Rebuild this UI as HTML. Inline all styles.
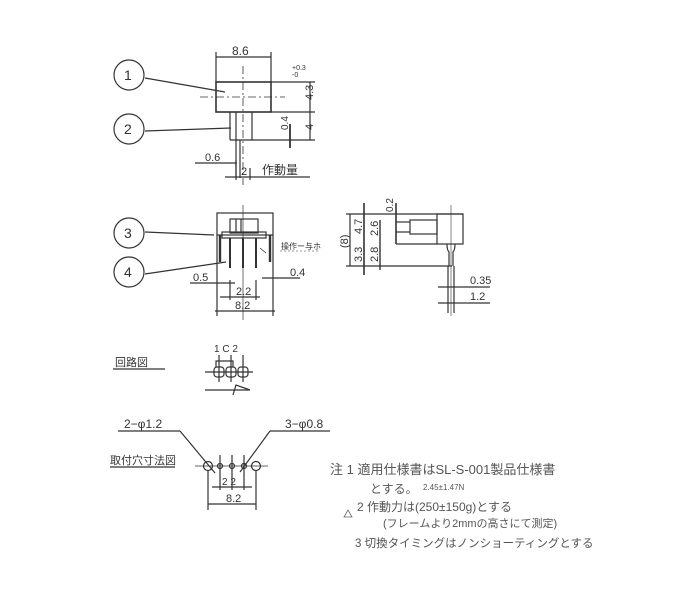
<!DOCTYPE html>
<html><head><meta charset="utf-8"><style>
html,body{margin:0;padding:0;background:#fff;}
svg{display:block}
text{font-family:"Liberation Sans","Noto Sans CJK JP",sans-serif;fill:#333;}
.n{fill:#555;}
</style></head><body>
<svg width="700" height="594" viewBox="0 0 700 594" xmlns="http://www.w3.org/2000/svg">
<g stroke="#333" stroke-width="1.2" fill="none">
<circle cx="129" cy="75" r="15"/>
<circle cx="129" cy="129" r="15"/>
<line x1="145" y1="78" x2="225" y2="92"/>
<line x1="145" y1="131" x2="231" y2="128"/>
<rect x="216" y="82" width="55" height="30" stroke-width="1.6"/>
<line x1="216" y1="52" x2="216" y2="82"/><line x1="271" y1="52" x2="271" y2="82"/>
<line x1="216" y1="57" x2="271" y2="57"/>
<line x1="243" y1="66" x2="243" y2="185" stroke-dasharray="8,3,2,3" stroke-width="0.8"/>
<line x1="200" y1="97" x2="285" y2="97" stroke-dasharray="8,3,2,3" stroke-width="0.8"/>
<line x1="230" y1="112" x2="230" y2="140"/><line x1="236" y1="112" x2="236" y2="140"/>
<line x1="252" y1="112" x2="252" y2="140"/>
<line x1="230" y1="140" x2="252" y2="140"/>
<line x1="236" y1="140" x2="236" y2="178"/><line x1="240" y1="140" x2="240" y2="178"/>
<line x1="271" y1="82" x2="315" y2="82"/><line x1="271" y1="112" x2="315" y2="112"/>
<line x1="252" y1="140" x2="315" y2="140"/>
<line x1="310" y1="82" x2="310" y2="140"/>
<line x1="290" y1="124" x2="290" y2="148" stroke-width="1.8"/>
<line x1="195" y1="163" x2="237" y2="163"/>
<line x1="225" y1="177" x2="310" y2="177"/>
<line x1="236" y1="160" x2="236" y2="180"/><line x1="250" y1="168" x2="250" y2="180"/>
<circle cx="129" cy="233" r="15"/>
<circle cx="129" cy="272" r="15"/>
<line x1="145" y1="232" x2="214" y2="235"/>
<line x1="145" y1="274" x2="226" y2="262"/>
<rect x="217" y="213" width="56" height="22"/>
<line x1="217" y1="235" x2="217" y2="290"/><line x1="273" y1="235" x2="273" y2="290"/>
<line x1="220" y1="235" x2="220" y2="262" stroke-width="2.4"/><line x1="270" y1="235" x2="270" y2="262" stroke-width="2.4"/>
<rect x="230" y="219" width="28" height="14"/>
<line x1="236" y1="219" x2="236" y2="233"/><line x1="241" y1="219" x2="241" y2="233"/>
<rect x="222" y="232" width="44" height="6"/>
<line x1="230" y1="238" x2="230" y2="268" stroke-width="2"/><line x1="243" y1="238" x2="243" y2="268" stroke-width="2"/><line x1="256" y1="238" x2="256" y2="268" stroke-width="2"/>
<line x1="243" y1="205" x2="243" y2="320" stroke-width="0.7"/>
<line x1="190" y1="283" x2="235" y2="283"/>
<line x1="262" y1="278" x2="300" y2="278"/>
<line x1="220" y1="297" x2="260" y2="297"/>
<line x1="215" y1="311" x2="275" y2="311"/>
<line x1="230" y1="280" x2="230" y2="300"/><line x1="256" y1="280" x2="256" y2="300"/>
<line x1="217" y1="290" x2="217" y2="316"/><line x1="273" y1="290" x2="273" y2="316"/>
<line x1="260" y1="248" x2="266" y2="253" stroke-width="0.8"/>
<line x1="280" y1="251" x2="320" y2="251" stroke-width="0.6" stroke-dasharray="2,2"/>
<line x1="346" y1="214" x2="463" y2="214"/>
<rect x="437" y="214" width="26" height="30"/>
<line x1="396" y1="244" x2="437" y2="244"/>
<rect x="410" y="220" width="27" height="14"/>
<line x1="396" y1="222" x2="410" y2="222"/><line x1="396" y1="232" x2="410" y2="232"/>
<line x1="346" y1="266" x2="452" y2="266"/>
<line x1="350" y1="214" x2="350" y2="266"/>
<line x1="364" y1="203" x2="364" y2="275" stroke-width="1.6"/>
<line x1="380" y1="220" x2="380" y2="270" stroke-width="1.4"/>
<line x1="396" y1="203" x2="396" y2="244" stroke-width="1.6"/>
<path d="M447 244 Q447 250 449 252 L449 266 M455 244 Q455 250 453 252 L453 266"/>
<line x1="448" y1="266" x2="448" y2="313"/><line x1="454" y1="266" x2="454" y2="313"/>
<line x1="451" y1="205" x2="451" y2="316" stroke-width="0.6"/>
<line x1="438" y1="287" x2="490" y2="287"/>
<line x1="438" y1="303" x2="490" y2="303"/>
<line x1="113" y1="369" x2="165" y2="369"/>
<line x1="205" y1="372" x2="253" y2="372"/>
<line x1="219" y1="355" x2="219" y2="382"/><line x1="231" y1="355" x2="231" y2="382"/><line x1="243" y1="355" x2="243" y2="382"/>
<rect x="214" y="367" width="10" height="10" rx="3"/>
<rect x="226" y="367" width="10" height="10" rx="3"/>
<rect x="238" y="367" width="10" height="10" rx="3"/>
<path d="M216 367 L216 361 L233 361 L233 367"/>
<line x1="205" y1="390" x2="250" y2="390"/>
<path d="M233 395 L236 385 L250 390"/>
<line x1="118" y1="431" x2="180" y2="431"/>
<line x1="180" y1="431" x2="215" y2="473"/>
<line x1="270" y1="431" x2="330" y2="431"/>
<line x1="270" y1="431" x2="240" y2="472"/>
<line x1="110" y1="467" x2="175" y2="467"/>
<line x1="195" y1="466" x2="268" y2="466" stroke-width="0.7"/>
<circle cx="208" cy="466" r="4.5"/><circle cx="220" cy="466" r="2.5"/><circle cx="232" cy="466" r="2.5"/><circle cx="244" cy="466" r="2.5"/><circle cx="256" cy="466" r="4.5"/>
<line x1="220" y1="455" x2="220" y2="490"/><line x1="232" y1="455" x2="232" y2="490"/><line x1="244" y1="455" x2="244" y2="490"/>
<line x1="208" y1="470" x2="208" y2="510"/><line x1="256" y1="470" x2="256" y2="510"/>
<line x1="212" y1="487" x2="252" y2="487"/>
<line x1="208" y1="504" x2="256" y2="504"/>
<path d="M344 517 L348 510 L352 517 Z" stroke-width="0.8" stroke="#666"/>
</g>
<g font-size="12">
<text x="124" y="80" font-size="14">1</text>
<text x="124" y="134" font-size="14">2</text>
<text x="232" y="55">8.6</text>
<text x="292" y="70" font-size="7">+0.3</text>
<text x="292" y="77" font-size="7">-0</text>
<text x="313" y="100" transform="rotate(-90 313 100)" font-size="11">4.3</text>
<text x="313" y="130" transform="rotate(-90 313 130)" font-size="11">4</text>
<text x="288" y="130" transform="rotate(-90 288 130)" font-size="10">0.4</text>
<text x="205" y="161" font-size="11">0.6</text>
<text x="241" y="175" font-size="11">2</text>
<text x="262" y="174" font-size="12">作動量</text>
<text x="124" y="238" font-size="14">3</text>
<text x="124" y="277" font-size="14">4</text>
<text x="281" y="249" font-size="8">操作ー与ホ</text>
<text x="193" y="281" font-size="11">0.5</text>
<text x="290" y="276" font-size="11">0.4</text>
<text x="236" y="295" font-size="11">2.2</text>
<text x="235" y="309" font-size="11">8.2</text>
<text x="348" y="248" transform="rotate(-90 348 248)" font-size="11">(8)</text>
<text x="362" y="234" transform="rotate(-90 362 234)" font-size="11">4.7</text>
<text x="362" y="262" transform="rotate(-90 362 262)" font-size="11">3.3</text>
<text x="378" y="236" transform="rotate(-90 378 236)" font-size="11">2.6</text>
<text x="378" y="262" transform="rotate(-90 378 262)" font-size="11">2.8</text>
<text x="393" y="212" transform="rotate(-90 393 212)" font-size="10">0.2</text>
<text x="470" y="284" font-size="11">0.35</text>
<text x="470" y="300" font-size="11">1.2</text>
<text x="115" y="366" font-size="11">回路図</text>
<text x="214" y="352" font-size="10">1 C 2</text>
<text x="124" y="428" font-size="12">2−φ1.2</text>
<text x="285" y="428" font-size="12">3−φ0.8</text>
<text x="110" y="464" font-size="11">取付穴寸法図</text>
<text x="222" y="485" font-size="10">2 2</text>
<text x="226" y="502" font-size="11">8.2</text>
<g class="n">
<text x="330" y="474" font-size="13" class="n">注 1 適用仕様書はSL-S-001製品仕様書</text>
<text x="370" y="493" font-size="12" class="n">とする。</text>
<text x="423" y="490" font-size="8" class="n">2.45±1.47N</text>
<text x="357" y="511" font-size="12" class="n">2 作動力は(250±150g)とする</text>
<text x="383" y="527" font-size="11" class="n">(フレームより2mmの高さにて測定)</text>
<text x="355" y="547" font-size="11.5" class="n">3 切換タイミングはノンショーティングとする</text>
</g>
</g>
</svg>
</body></html>
